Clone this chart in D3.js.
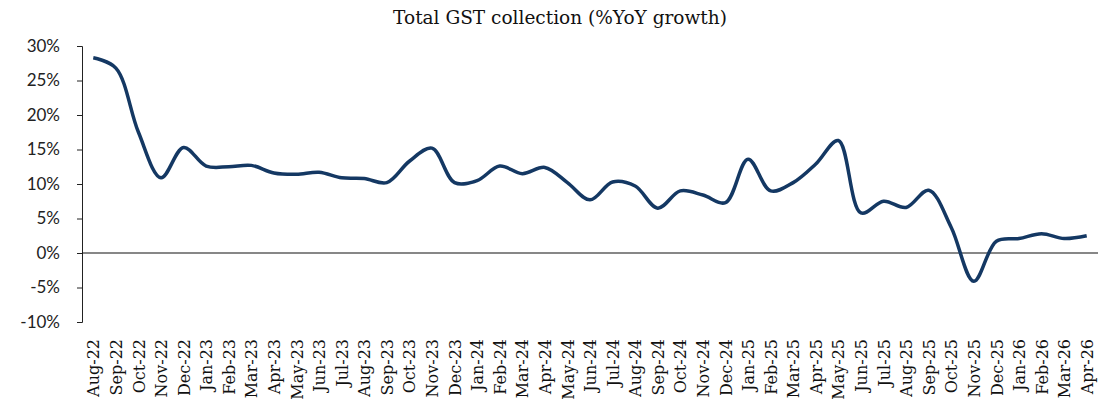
<!DOCTYPE html>
<html>
<head>
<meta charset="utf-8">
<script src="https://cdn.jsdelivr.net/npm/d3@7"></script>
<style>
  body { margin: 0; background: #fff; }
</style>
</head>
<body>
<div id="chart"></div>
<script>
const months = ["Aug-22","Sep-22","Oct-22","Nov-22","Dec-22","Jan-23","Feb-23","Mar-23","Apr-23","May-23",
  "Jun-23","Jul-23","Aug-23","Sep-23","Oct-23","Nov-23","Dec-23","Jan-24","Feb-24","Mar-24",
  "Apr-24","May-24","Jun-24","Jul-24","Aug-24","Sep-24","Oct-24","Nov-24","Dec-24","Jan-25",
  "Feb-25","Mar-25","Apr-25","May-25","Jun-25","Jul-25","Aug-25","Sep-25","Oct-25","Nov-25",
  "Dec-25","Jan-26","Feb-26","Mar-26","Apr-26"];
const growth = [28.3, 26.8, 17.5, 10.9, 15.3, 12.6, 12.5, 12.7, 11.6, 11.4,
  11.7, 10.9, 10.8, 10.2, 13.3, 15.2, 10.2, 10.5, 12.6, 11.5,
  12.4, 10.2, 7.7, 10.3, 9.7, 6.5, 9.0, 8.4, 7.3, 13.6,
  9.0, 10.2, 12.9, 16.3, 5.8, 7.5, 6.6, 9.1, 3.7, -4.1,
  1.7, 2.1, 2.8, 2.1, 2.5];
const yTicks = [-10, -5, 0, 5, 10, 15, 20, 25, 30];

const W = 1100, H = 411;
const margin = {top: 46, right: 2, bottom: 89, left: 82};
const width = W - margin.left - margin.right;
const height = H - margin.top - margin.bottom;

const svg = d3.select("#chart").append("svg")
    .attr("width", W)
    .attr("height", H);

svg.append("text")
  .attr("x", 560).attr("y", 24)
  .attr("text-anchor", "middle")
  .style("font-family", "'DejaVu Serif', serif")
  .style("font-size", "18.5px")
  .attr("fill", "#111")
  .text("Total GST collection (%YoY growth)");

const g = svg.append("g")
  .attr("transform", `translate(${margin.left},${margin.top})`);

const x = d3.scalePoint()
  .domain(months)
  .range([0, width])
  .padding(0.5);

const y = d3.scaleLinear()
  .domain([-10, 30])
  .range([height, 0]);

// y axis
const yAxis = g.append("g")
  .call(d3.axisLeft(y).tickValues(yTicks).tickSize(5).tickFormat(d => d + "%"));
yAxis.select(".domain").attr("stroke", "#222");
yAxis.selectAll(".tick line").attr("stroke", "#222");
yAxis.selectAll("text")
  .attr("x", -22)
  .style("font-family", "Lato, sans-serif")
  .style("font-size", "17px")
  .attr("fill", "#222");

// zero line
g.append("line")
  .attr("x1", 0).attr("x2", width)
  .attr("y1", y(0)).attr("y2", y(0))
  .attr("stroke", "#111").attr("stroke-width", 1.2);

// x labels
const xAxis = g.append("g")
  .attr("transform", `translate(0,${height})`)
  .call(d3.axisBottom(x).tickSize(0));
xAxis.select(".domain").remove();
xAxis.selectAll("text")
  .attr("transform", "rotate(-90)")
  .attr("text-anchor", "end")
  .attr("x", -17)
  .attr("y", 0)
  .attr("dy", "0.35em")
  .style("font-family", "'DejaVu Serif', serif")
  .style("font-size", "16px")
  .attr("fill", "#111");

const line = d3.line()
  .x((d, i) => x(months[i]))
  .y(d => y(d))
  .curve(d3.curveCatmullRom.alpha(0.5));

g.append("path")
  .datum(growth)
  .attr("fill", "none")
  .attr("stroke", "#143863")
  .attr("stroke-width", 3.5)
  .attr("stroke-linejoin", "round")
  .attr("d", line);
</script>
</body>
</html>
